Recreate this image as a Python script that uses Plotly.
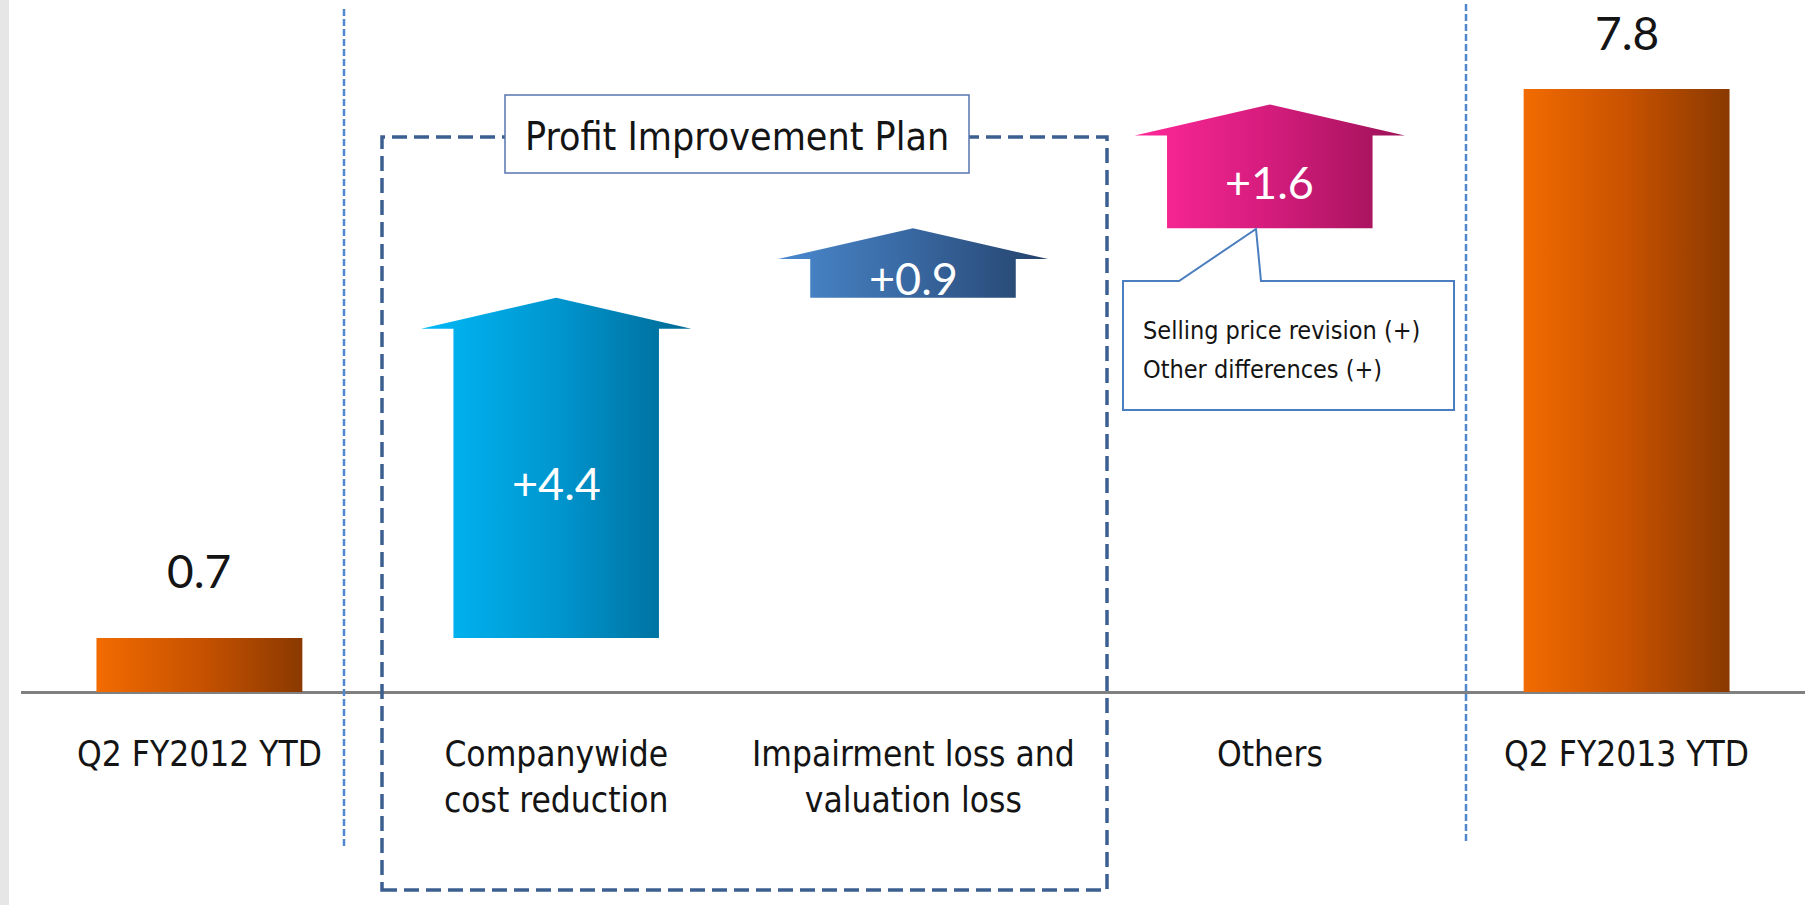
import plotly.graph_objects as go

# ---------------- data ----------------
categories = ["Q2 FY2012 YTD", "Companywide<br>cost reduction",
              "Impairment loss and<br>valuation loss", "Others", "Q2 FY2013 YTD"]
start_value = 0.7
end_value = 7.8
delta_values = [4.4, 0.9, 1.6]
delta_labels = ["+4.4", "+0.9", "+1.6"]
callout_lines = ["Selling price revision (+)", "Other differences (+)"]
group_title = "Profit Improvement Plan"

# ---------------- styles ----------------
W, H = 1820, 905
ML, MR, MT, MB = 21, 15, 0, 0
SCALE = 77.3            # pixels per unit on the value axis
BASE_PX = 692           # pixel row of the zero line
X_RANGE = [-0.5, 4.5]
Y_RANGE = [-(H - BASE_PX) / SCALE, BASE_PX / SCALE]

NARROW = "Liberation Sans Narrow, Arial Narrow, DejaVu Sans Condensed, sans-serif"
NUMFONT = "Lato, Open Sans, sans-serif"
TXT = "#141414"

bar_scale = [[0, "#F26B00"], [0.5, "#C85200"], [1, "#8A3900"]]
arrow_scales = [
    [[0, "#00B9F7"], [0.5, "#0096CF"], [1, "#006994"]],
    [[0, "#4A89CE"], [0.5, "#3867A0"], [1, "#25436C"]],
    [[0, "#FF2899"], [0.5, "#D41C7C"], [1, "#9D1257"]],
]
BAR_W = 0.577
BODY_W = 0.576
HEAD_W = 0.757
HEAD_H = 0.40


def px2x(p):
    return (p - ML) / (W - ML - MR) * (X_RANGE[1] - X_RANGE[0]) + X_RANGE[0]


def px2y(p):
    return Y_RANGE[1] - (p - MT) / (H - MT - MB) * (Y_RANGE[1] - Y_RANGE[0])


fig = go.Figure()


def add_bar(xc, v, scale):
    xs = [xc - BAR_W / 2, xc + BAR_W / 2, xc + BAR_W / 2, xc - BAR_W / 2, xc - BAR_W / 2]
    ys = [0, 0, v, v, 0]
    fig.add_trace(go.Scatter(x=xs, y=ys, mode="lines", fill="toself",
                             line=dict(width=0, color="rgba(0,0,0,0)"),
                             fillgradient=dict(type="horizontal", colorscale=scale),
                             hoverinfo="skip", showlegend=False))


def add_arrow(xc, base, top, scale):
    neck = top - HEAD_H
    xs = [xc - BODY_W / 2, xc - BODY_W / 2, xc - HEAD_W / 2, xc, xc + HEAD_W / 2,
          xc + BODY_W / 2, xc + BODY_W / 2, xc - BODY_W / 2]
    ys = [base, neck, neck, top, neck, neck, base, base]
    fig.add_trace(go.Scatter(x=xs, y=ys, mode="lines", fill="toself",
                             line=dict(width=0, color="rgba(0,0,0,0)"),
                             fillgradient=dict(type="horizontal", colorscale=scale),
                             hoverinfo="skip", showlegend=False))


# start and end bars
add_bar(0, start_value, bar_scale)
add_bar(4, end_value, bar_scale)

# arrows (waterfall deltas)
running = start_value
arrow_mid = []
for i, d in enumerate(delta_values):
    base = running
    top = running + d
    add_arrow(i + 1, base, top, arrow_scales[i])
    arrow_mid.append((base + top - HEAD_H) / 2)
    running = top

shapes = []
# left gray strip
shapes.append(dict(type="rect", xref="paper", yref="paper",
                   x0=-ML / (W - ML - MR), x1=(9 - ML) / (W - ML - MR), y0=0, y1=1,
                   fillcolor="#E6E6E6", line=dict(width=0), layer="below"))
# separator lines
for xp, yt, yb in [(344, 9, 848), (1466, 4, 843)]:
    shapes.append(dict(type="line", x0=px2x(xp), x1=px2x(xp), y0=px2y(yt), y1=px2y(yb),
                       line=dict(color="#4F86CC", width=2.5, dash="7px,3px"), layer="above"))
# dashed group box
shapes.append(dict(type="rect", x0=px2x(382), x1=px2x(1107), y0=px2y(890), y1=px2y(137),
                   line=dict(color="#3C5F91", width=3.5, dash="15px,7px"),
                   fillcolor="rgba(0,0,0,0)", layer="above"))
# group title box
shapes.append(dict(type="rect", x0=px2x(505), x1=px2x(969), y0=px2y(173), y1=px2y(95),
                   line=dict(color="#5675AE", width=1.5), fillcolor="white", layer="above"))
# callout
pts = [(1123, 281), (1179, 281), (1256, 229), (1261, 281), (1454, 281), (1454, 410), (1123, 410)]
path = "M " + " L ".join(f"{px2x(a):.5f},{px2y(b):.5f}" for a, b in pts) + " Z"
shapes.append(dict(type="path", path=path, line=dict(color="#4A7EC0", width=2),
                   fillcolor="white", layer="above"))

annotations = []
# category labels
for i, c in enumerate(categories):
    annotations.append(dict(x=i, y=0, xref="x", yref="y", text=c, showarrow=False,
                            xanchor="center", yanchor="top", yshift=-40, align="center",
                            font=dict(family=NARROW, size=35, color=TXT)))
# value labels (kept inside the top edge of the picture)
for xc, v in [(0, start_value), (4, end_value)]:
    top_room = BASE_PX - v * SCALE          # pixels between bar top and picture top
    shift = min(38, top_room - 62)
    annotations.append(dict(x=xc, y=v, text=f"{v:.1f}", showarrow=False,
                            xanchor="center", yanchor="bottom", yshift=shift,
                            font=dict(family=NUMFONT, size=46, color=TXT)))
# arrow labels
for i, lab in enumerate(delta_labels):
    annotations.append(dict(x=i + 1, y=arrow_mid[i], text=lab, showarrow=False,
                            xanchor="center", yanchor="middle",
                            font=dict(family=NUMFONT, size=45, color="white")))
# group title
annotations.append(dict(x=px2x(737), y=px2y(136), text=group_title, showarrow=False,
                        xanchor="center", yanchor="middle",
                        font=dict(family=NARROW, size=39, color=TXT)))
# callout text (one annotation per line)
for k, line in enumerate(callout_lines):
    annotations.append(dict(x=px2x(1141), y=px2y(330 + 39 * k), text=line,
                            showarrow=False, xanchor="left", yanchor="middle", align="left",
                            font=dict(family=NARROW, size=25, color=TXT)))

fig.update_layout(
    width=W, height=H,
    margin=dict(l=ML, r=MR, t=MT, b=MB),
    paper_bgcolor="white", plot_bgcolor="white",
    showlegend=False, hovermode=False,
    shapes=shapes, annotations=annotations,
    xaxis=dict(range=X_RANGE, showgrid=False, zeroline=False,
               showticklabels=False, ticks="", showline=False, fixedrange=True),
    yaxis=dict(range=Y_RANGE, showgrid=False, zeroline=True, zerolinecolor="#808080",
               zerolinewidth=2.5, showticklabels=False, ticks="", showline=False,
               fixedrange=True),
)

fig.write_html("out.html", config={"displayModeBar": False},
               post_script="document.body.style.margin='0';")
